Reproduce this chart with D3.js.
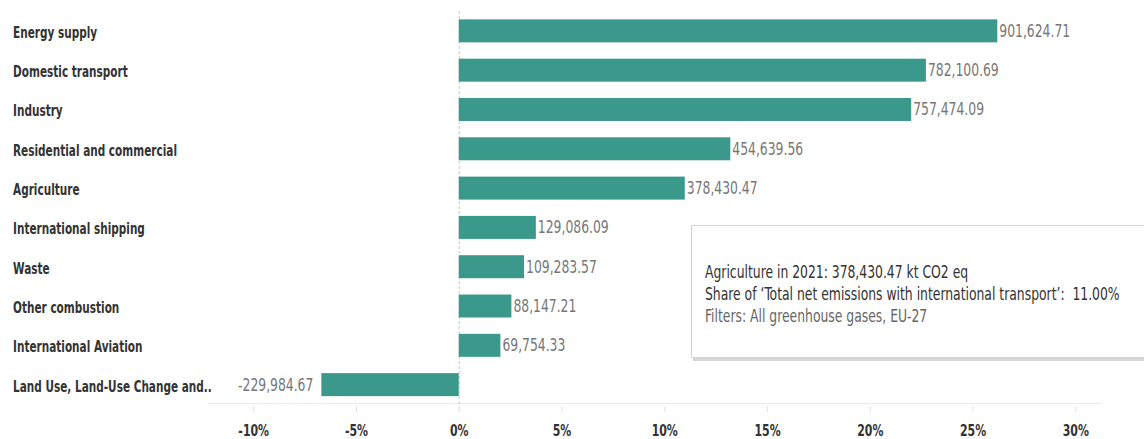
<!DOCTYPE html>
<html>
<head>
<meta charset="utf-8">
<script src="https://cdn.jsdelivr.net/npm/d3@7"></script>
<style>
  body { margin: 0; background: #fff; }
  svg { display: block; font-family: "DejaVu Sans Condensed", "DejaVu Sans", sans-serif; }
</style>
</head>
<body>
<svg id="chart" width="1144" height="439"></svg>
<script>
// sectors, kt CO2 eq, 2021, EU-27
const sectors = [
    'Energy supply',
    'Domestic transport',
    'Industry',
    'Residential and commercial',
    'Agriculture',
    'International shipping',
    'Waste',
    'Other combustion',
    'International Aviation',
    'Land Use, Land-Use Change and..'
]
const emissions = [901624.71, 782100.69, 757474.09, 454639.56, 378430.47,
    129086.09, 109283.57, 88147.21, 69754.33, -229984.67]
const ticks = [-10, -5, 0, 5, 10, 15, 20, 25, 30]
const tooltipLines = [
    'Agriculture in 2021: 378,430.47 kt CO2 eq',
    'Share of \u2018Total net emissions with international transport\u2019:  11.00%',
    'Filters: All greenhouse gases, EU-27'
]

const total = d3.sum(emissions)
const data = sectors.map((s, i) => ({sector: s, value: emissions[i], share: emissions[i] / total * 100}))

const svg = d3.select('#chart')

const x = d3.scaleLinear()
    .domain([-12.2, 31.3])
    .range([208, 1102])

const y = d3.scaleBand()
    .domain(sectors)
    .range([11.5, 404])
    .paddingInner(0.415)
    .paddingOuter(0.2)

// plain hyphen for negatives, like the original
const fmt = d3.formatLocale({decimal: '.', thousands: ',', grouping: [3], currency: ['', ''], minus: '-'}).format(',.2f')

// no narrow font here, so squeeze text horizontally
function place(sel, fx, fy, k) {
    sel.attr('transform', (d, i) => `translate(${fx(d, i)},${fy(d, i)}) scale(${k},1)`)
}

// axis line + ticks
svg.append('line')
    .attr('x1', x.range()[0]).attr('x2', x.range()[1])
    .attr('y1', 403.5).attr('y2', 403.5)
    .attr('stroke', '#ececec')

const xAxis = svg.append('g')
    .attr('transform', 'translate(0,406)')
    .call(d3.axisBottom(x).tickValues(ticks).tickSize(6).tickFormat(d => d + '%'))

xAxis.select('.domain').remove()
xAxis.selectAll('.tick line').attr('stroke', '#e4e4e4')
xAxis.selectAll('.tick text')
    .attr('y', 0)
    .attr('dy', 0)
    .attr('transform', 'translate(0,30) scale(0.76,1)')
    .attr('fill', '#333')
    .attr('font-size', 16)
    .attr('font-weight', 'bold')
    .attr('font-family', '"DejaVu Sans Condensed", "DejaVu Sans", sans-serif')

// zero line
svg.append('line')
    .attr('x1', x(0) + 0.5).attr('x2', x(0) + 0.5)
    .attr('y1', 11).attr('y2', 404)
    .attr('stroke', '#c8c8c8')
    .attr('stroke-dasharray', '3,2')

// bars
svg.append('g').selectAll('rect')
    .data(data)
    .join('rect')
    .attr('x', d => x(Math.min(0, d.share)))
    .attr('width', d => Math.abs(x(d.share) - x(0)))
    .attr('y', d => y(d.sector))
    .attr('height', y.bandwidth())
    .attr('fill', '#3b998b')

// value labels
svg.append('g').selectAll('text')
    .data(data)
    .join('text')
    .call(place, d => d.share >= 0 ? x(d.share) + 2 : x(d.share) - 8,
        d => y(d.sector) + y.bandwidth() / 2 + 6, 0.81)
    .attr('text-anchor', d => d.share >= 0 ? 'start' : 'end')
    .attr('font-size', 17)
    .attr('fill', '#777')
    .text(d => fmt(d.value))

// category labels
svg.append('g').selectAll('text')
    .data(data)
    .join('text')
    .call(place, () => 13, d => y(d.sector) + y.bandwidth() / 2 + 7, 0.73)
    .attr('font-size', 16)
    .attr('font-weight', 'bold')
    .attr('fill', '#333')
    .text(d => d.sector)

// tooltip box
const tip = svg.append('g')

tip.append('rect')
    .attr('x', 693).attr('y', 228)
    .attr('width', 480).attr('height', 133)
    .attr('fill', '#d6d6d6')

tip.append('rect')
    .attr('x', 691.5).attr('y', 225.5)
    .attr('width', 480).attr('height', 132)
    .attr('fill', '#fff')
    .attr('stroke', '#d4d4d4')

tip.selectAll('text')
    .data(tooltipLines)
    .join('text')
    .call(place, () => 705, (d, i) => 278 + i * 22, 0.81)
    .attr('font-size', 17)
    .style('white-space', 'pre')
    .attr('fill', (d, i) => i < 2 ? '#333' : '#666')
    .text(d => d)
</script>
</body>
</html>
